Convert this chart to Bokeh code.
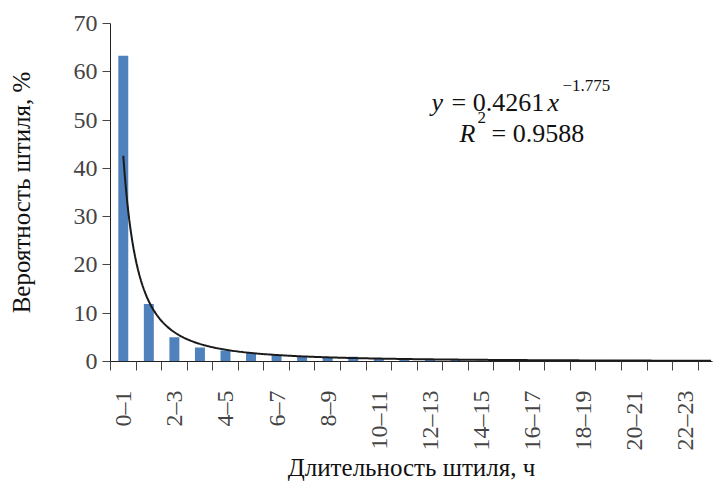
import math
import numpy as np
from bokeh.plotting import figure
from bokeh.models import Range1d, FixedTicker, ColumnDataSource
from bokeh.core.properties import value
from bokeh.embed import file_html
from bokeh.resources import INLINE

# ---- data ----
categories = ["0–1", "1–2", "2–3", "3–4", "4–5", "5–6", "6–7", "7–8", "8–9", "9–10",
              "10–11", "11–12", "12–13", "13–14", "14–15", "15–16", "16–17", "17–18",
              "18–19", "19–20", "20–21", "21–22", "22–23", "23–24"]
probability = [63.3, 11.9, 5.0, 2.9, 2.3, 1.8, 1.3, 1.0, 0.7, 1.0,
               0.5, 0.4, 0.3, 0.3, 0.2, 0.2, 0.2, 0.1, 0.1, 0.1,
               0.1, 0.1, 0.1, 0.1]
y_ticks = [0, 10, 20, 30, 40, 50, 60, 70]
# power trendline shown on the chart: y = 0.4261 x^-1.775 (fraction -> %)
trend_a = 0.4261
trend_b = -1.775

FONT = "Liberation Serif"
TICK_FONT = "Times New Roman"

n = len(categories)
centers = [i + 0.5 for i in range(n)]

p = figure(width=719, height=486, x_range=Range1d(0, 23.56), y_range=Range1d(0, 70),
           output_backend="svg", toolbar_location=None,
           min_border_left=110, min_border_right=7, min_border_top=23, min_border_bottom=125)
p.outline_line_color = None
p.xgrid.visible = False
p.ygrid.visible = False

p.vbar(x=centers, top=probability, width=0.39, color="#4f81bd", line_color=None)

t = np.linspace(1, n, 400)
p.line(x=t - 0.5, y=trend_a * 100 * t ** trend_b, line_color="#1a1a1a", line_width=2)

# x axis
xa = p.xaxis[0]
label_pos = centers[::2]
xa.ticker = FixedTicker(ticks=label_pos, minor_ticks=list(range(n + 1)))
xa.major_label_overrides = {c: categories[i * 2] for i, c in enumerate(label_pos)}
xa.major_label_orientation = math.pi / 2
xa.major_tick_out = 0
xa.major_tick_in = 0
xa.minor_tick_out = 9
xa.minor_tick_in = 0
xa.minor_tick_line_color = "#444444"
xa.axis_line_color = "#222222"
xa.major_label_text_font = TICK_FONT
xa.major_label_text_font_size = "24px"
xa.major_label_text_font_style = "normal"
xa.major_label_standoff = 20
xa.axis_label = "Длительность штиля, ч"
xa.axis_label_text_font = FONT
xa.axis_label_text_font_size = "25px"
xa.axis_label_text_font_style = "normal"
xa.axis_label_text_color = "#111111"
xa.axis_label_standoff = 0

# y axis
ya = p.yaxis[0]
ya.ticker = FixedTicker(ticks=y_ticks)
ya.major_tick_out = 8
ya.major_tick_in = 0
ya.minor_tick_out = 0
ya.minor_tick_in = 0
ya.major_tick_line_color = "#444444"
ya.axis_line_color = "#222222"
ya.major_label_text_font = TICK_FONT
ya.major_label_text_font_size = "24px"
ya.major_label_text_font_style = "normal"
ya.major_label_standoff = 5
ya.axis_label = "Вероятность штиля, %"
ya.axis_label_text_font = FONT
ya.axis_label_text_font_size = "25px"
ya.axis_label_text_font_style = "normal"
ya.axis_label_text_color = "#111111"
ya.axis_label_standoff = 36

# trendline equation, drawn as text glyphs
eq_x = [12.56, 13.35, 17.10, 17.69, 13.66, 14.36, 14.91]
eq_y = [53.6, 53.6, 53.6, 57.2, 47.2, 50.5, 47.2]
eq_text = ["y", "= 0.4261", "x", "−1.775", "R", "2", "= 0.9588"]
eq_size = ["26px", "26px", "26px", "17px", "26px", "17px", "26px"]
eq_style = ["italic", "normal", "italic", "normal", "italic", "normal", "normal"]
src = ColumnDataSource(dict(x=eq_x, y=eq_y, text=eq_text, size=eq_size, style=eq_style))
p.text(x="x", y="y", text="text", source=src, text_font=value(FONT),
       text_font_size="size", text_font_style="style", text_color="#111111",
       text_baseline="alphabetic", text_align="left")

open("out.html", "w").write(file_html(p, INLINE))
